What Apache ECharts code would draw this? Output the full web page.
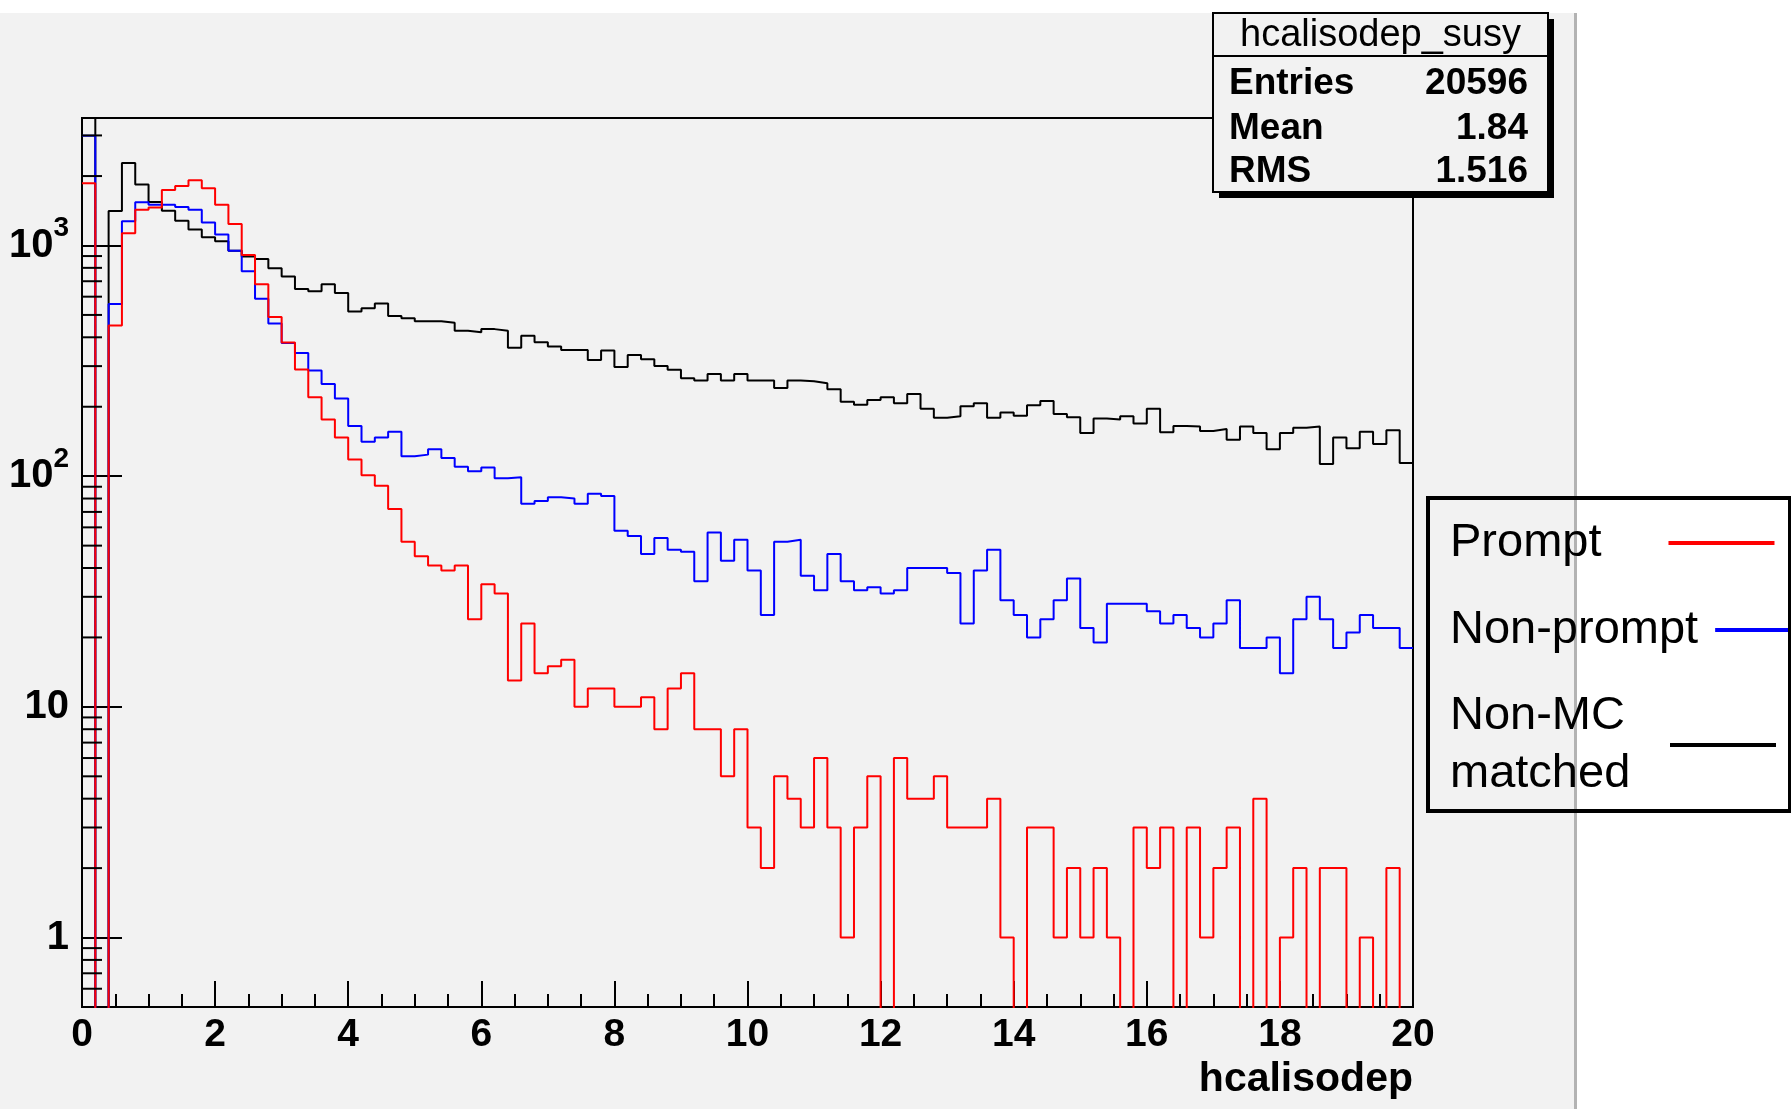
<!DOCTYPE html>
<html>
<head>
<meta charset="utf-8">
<script src="https://cdn.jsdelivr.net/npm/echarts@6/dist/echarts.min.js"></script>
<style>
html,body{margin:0;padding:0;background:#ffffff;}
#chart{width:1791px;height:1109px;}
</style>
</head>
<body>
<div id="chart"></div>
<script>
// ---- data (counts per 0.2-wide bin, 0..20) ----
const binWidth = 0.2;
const xMin = 0, xMax = 20;
const seriesNames = ['Prompt', 'Non-prompt', 'Non-MC matched'];
const legendLabels = ['Prompt', 'Non-prompt', '{a|Non-MC}\n{a|matched}'];
const seriesColors = ['#ff0000', '#0000ff', '#000000'];

const prompt = [
  1860, 0, 450, 1130, 1430, 1460, 1740, 1810, 1920, 1770,
  1500, 1240, 910, 680, 490, 380, 290, 220, 176, 147,
  118, 101, 91, 72, 52, 45, 41, 39, 41, 24,
  34, 31, 13, 23, 14, 15, 16, 10, 12, 12,
  10, 10, 11, 8, 12, 14, 8, 8, 5, 8,
  3, 2, 5, 4, 3, 6, 3, 1, 3, 5,
  0, 6, 4, 4, 5, 3, 3, 3, 4, 1,
  0, 3, 3, 1, 2, 1, 2, 1, 0, 3,
  2, 3, 0, 3, 1, 2, 3, 0, 4, 0,
  1, 2, 0, 2, 2, 0, 1, 0, 2, 0
];
const nonPrompt = [
  2990, 0, 558, 1275, 1540, 1500, 1500, 1470, 1430, 1257,
  1117, 949, 773, 587, 459, 378, 342, 287, 251, 217,
  165, 141, 147, 156, 122, 124, 131, 120, 110, 105,
  109, 98, 99, 76, 78, 81, 80, 76, 84, 82,
  58, 55, 46, 54, 48, 47, 35, 57, 43, 53,
  39, 25, 52, 53, 37, 32, 46, 35, 32, 33,
  31, 32, 40, 40, 40, 38, 23, 39, 48, 29,
  25, 20, 24, 29, 36, 22, 19, 28, 28, 28,
  26, 23, 25, 22, 20, 23, 29, 18, 18, 20,
  14, 24, 30, 24, 18, 21, 25, 22, 22, 18
];
const nonMatched = [
  5000, 0, 1410, 2280, 1840, 1543, 1413, 1279, 1172, 1086,
  1042, 949, 895, 874, 796, 733, 648, 634, 680, 622,
  518, 535, 561, 495, 484, 470, 470, 462, 427, 421,
  434, 427, 360, 406, 381, 365, 352, 352, 319, 351,
  297, 335, 321, 300, 289, 266, 260, 277, 260, 277,
  260, 260, 241, 260, 258, 253, 238, 210, 204, 214,
  220, 207, 227, 196, 179, 182, 201, 207, 179, 189,
  183, 203, 212, 186, 180, 154, 178, 176, 182, 169,
  196, 155, 165, 164, 157, 160, 144, 164, 154, 131,
  154, 162, 164, 113, 147, 132, 156, 138, 158, 114
];

// axis ticks / labels
const xTickInterval = 2;
const yMin = 0.5, yMax = 3570;
const yMajorTicks = [1, 10, 100, 1000];
const yTickLabels = ['1', '10', '{b|10}{s|2}', '{b|10}{s|3}'];
const yMinorTicks = [0.6, 0.7, 0.8, 0.9,
  2, 3, 4, 5, 6, 7, 8, 9,
  20, 30, 40, 50, 60, 70, 80, 90,
  200, 300, 400, 500, 600, 700, 800, 900,
  2000, 3000];

// stats box text
const statsTitle = 'hcalisodep_susy';
const statsRows = [['Entries', '20596'], ['Mean', '1.84'], ['RMS', '1.516']];

// ---- build ----
const FONT = 'Liberation Sans, Arial, Helvetica, sans-serif';
const ZERO_DRAW = 0.05; // empty bins drop below the axis floor (clipped)

function histPoints(counts) {
  const pts = counts.map((c, i) => [xMin + i * binWidth, c > 0 ? c : ZERO_DRAW]);
  pts.push([xMax, counts[counts.length - 1] > 0 ? counts[counts.length - 1] : ZERO_DRAW]);
  return pts;
}
const allCounts = [prompt, nonPrompt, nonMatched];

const lineSeries = allCounts.map((c, k) => ({
  name: seriesNames[k],
  type: 'line',
  step: 'end',
  data: histPoints(c),
  showSymbol: false,
  symbol: 'none',
  clip: true,
  color: seriesColors[k],
  lineStyle: { color: seriesColors[k], width: 2 },
  itemStyle: { color: seriesColors[k] },
  z: 4 - k,
  animation: false
}));

const minorTickSeries = {
  type: 'custom',
  silent: true,
  animation: false,
  data: yMinorTicks.map(v => [xMin, v]),
  renderItem: function (params, api) {
    const p = api.coord([api.value(0), api.value(1)]);
    return {
      type: 'line',
      shape: { x1: p[0], y1: p[1], x2: p[0] + 20, y2: p[1] },
      style: { stroke: '#000', lineWidth: 2 }
    };
  },
  z: 5
};

function yLabel(v) {
  const lv = Math.log10(v);
  for (let i = 0; i < yMajorTicks.length; i++) {
    if (Math.abs(Math.log10(yMajorTicks[i]) - lv) < 1e-6) return yTickLabels[i];
  }
  return '';
}

// legend positions (three single-item legends)
const legendTops = [515, 602, 687];
const legendPadR = [62, 12, 33];
const legends = seriesNames.map((n, k) => ({
  data: [n],
  orient: 'vertical',
  left: 1450,
  top: legendTops[k],
  align: 'right',
  icon: 'rect',
  itemWidth: 106,
  itemHeight: 4,
  itemGap: 0,
  padding: 0,
  selectedMode: false,
  formatter: () => legendLabels[k],
  textStyle: {
    fontFamily: FONT, fontSize: 47, color: '#000',
    lineHeight: k === 2 ? 58 : 56,
    padding: [0, legendPadR[k], 0, 0],
    rich: {
      a: { width: 182, align: 'left', fontSize: 47, lineHeight: 58, fontFamily: FONT, color: '#000' }
    }
  }
}));

const statsX0 = 1213, statsY0 = 13, statsW = 335, statsH = 179;
const graphics = [
  { type: 'rect', z: -100, shape: { x: 0, y: 13, width: 1575, height: 1096 }, style: { fill: '#f2f2f2' } },
  { type: 'rect', z: -99, shape: { x: 1574, y: 13, width: 3, height: 1096 }, style: { fill: '#b3b3b3' } },
  { type: 'rect', z: 20, shape: { x: statsX0 + 6, y: statsY0 + 6, width: statsW, height: statsH }, style: { fill: '#000' } },
  { type: 'rect', z: 21, shape: { x: statsX0, y: statsY0, width: statsW, height: statsH }, style: { fill: '#f2f2f2', stroke: '#000', lineWidth: 2 } },
  { type: 'line', z: 22, shape: { x1: statsX0, y1: 56, x2: statsX0 + statsW, y2: 56 }, style: { stroke: '#000', lineWidth: 2 } },
  { type: 'text', z: 22, x: statsX0 + statsW / 2, y: 36,
    style: { text: statsTitle, fill: '#000', font: '38px ' + FONT, textAlign: 'center', textVerticalAlign: 'middle', align: 'center', verticalAlign: 'middle' } },
  { type: 'rect', z: 22, shape: { x: 1428, y: 498, width: 362, height: 313 }, style: { fill: 'none', stroke: '#000', lineWidth: 4 } }
];
const rowY = [84, 129, 172];
statsRows.forEach((r, i) => {
  graphics.push({ type: 'text', z: 22, x: 1229, y: rowY[i],
    style: { text: r[0], fill: '#000', font: 'bold 37px ' + FONT, textAlign: 'left', textVerticalAlign: 'middle', align: 'left', verticalAlign: 'middle' } });
  graphics.push({ type: 'text', z: 22, x: 1528, y: rowY[i],
    style: { text: r[1], fill: '#000', font: 'bold 37px ' + FONT, textAlign: 'right', textVerticalAlign: 'middle', align: 'right', verticalAlign: 'middle' } });
});

const option = {
  backgroundColor: '#ffffff',
  animation: false,
  textStyle: { fontFamily: FONT },
  grid: { left: 82, right: 378, top: 118, bottom: 102, show: true, borderColor: '#000', borderWidth: 2, backgroundColor: 'transparent' },
  legend: legends,
  xAxis: {
    type: 'value', min: xMin, max: xMax, interval: xTickInterval,
    axisLine: { show: true, lineStyle: { color: '#000', width: 2 } },
    axisTick: { show: true, inside: true, length: 26, lineStyle: { color: '#000', width: 2 } },
    minorTick: { show: true, splitNumber: 4, length: 13, lineStyle: { color: '#000', width: 2 } },
    splitLine: { show: false },
    axisLabel: { margin: 9, color: '#000', fontSize: 39, fontWeight: 'bold', fontFamily: FONT },
    name: 'hcalisodep', nameLocation: 'end', nameGap: 0,
    nameTextStyle: { align: 'right', verticalAlign: 'top', padding: [52, 0, 0, 0], fontSize: 41, fontWeight: 'bold', color: '#000', fontFamily: FONT }
  },
  yAxis: {
    type: 'log', logBase: 10, min: yMin, max: yMax,
    axisLine: { show: true, lineStyle: { color: '#000', width: 2 } },
    axisTick: { show: true, inside: true, length: 40, lineStyle: { color: '#000', width: 2 } },
    minorTick: { show: false },
    splitLine: { show: false },
    axisLabel: {
      margin: 13, color: '#000', fontSize: 40, fontWeight: 'bold', fontFamily: FONT,
      formatter: yLabel,
      rich: {
        b: { fontSize: 40, fontWeight: 'bold', lineHeight: 62, fontFamily: FONT, color: '#000' },
        s: { fontSize: 28, fontWeight: 'bold', lineHeight: 28, verticalAlign: 'top', fontFamily: FONT, color: '#000' }
      }
    }
  },
  series: lineSeries.concat([minorTickSeries]),
  graphic: { elements: graphics }
};

const chart = echarts.init(document.getElementById('chart'), null, { renderer: 'canvas' });
chart.setOption(option);
</script>
</body>
</html>
